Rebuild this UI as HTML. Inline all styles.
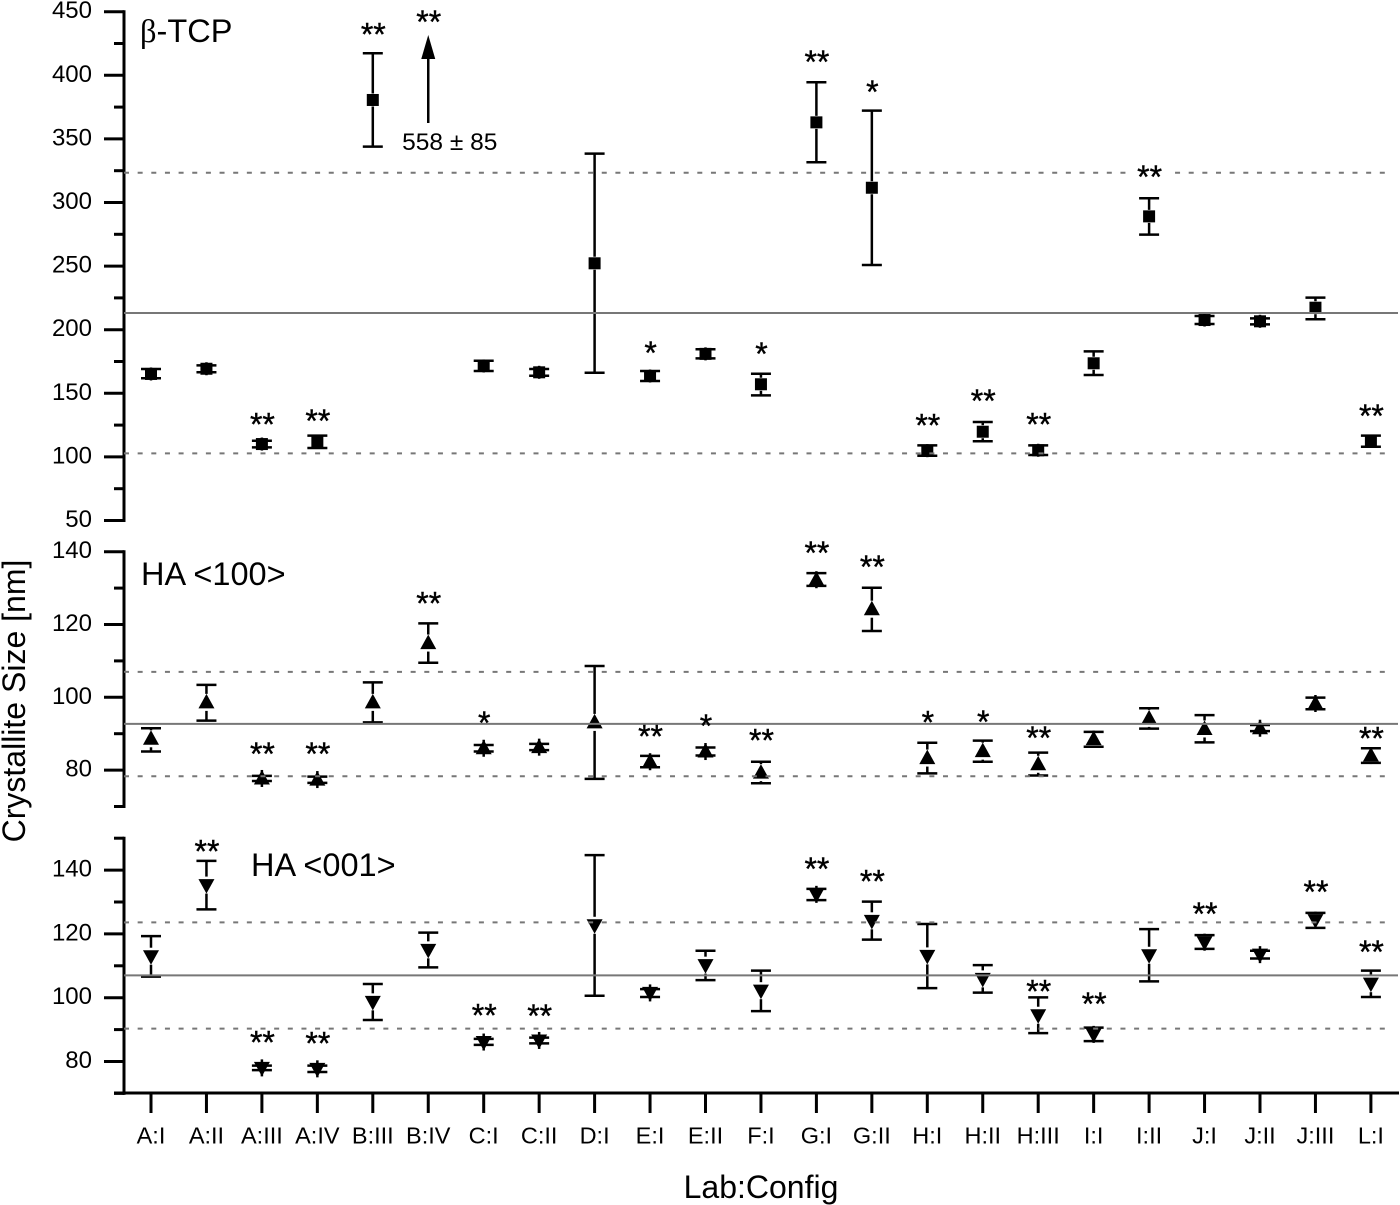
<!DOCTYPE html>
<html lang="en">
<head>
<meta charset="utf-8">
<title>Crystallite Size by Lab and Config</title>
<style>
html,body{margin:0;padding:0;background:#fff;}
svg{display:block;font-family:"Liberation Sans",Arial,sans-serif;}
</style>
</head>
<body>
<svg id="chart" width="1400" height="1205" viewBox="0 0 1400 1205" xmlns="http://www.w3.org/2000/svg">
<rect x="0" y="0" width="1400" height="1205" fill="#fff"/>
<text transform="translate(25,701) rotate(-90)" text-anchor="middle" font-size="32" fill="#000">Crystallite Size [nm]</text>
<text x="761" y="1198" text-anchor="middle" font-size="32" fill="#000">Lab:Config</text>
<text x="140" y="42" font-size="32.5" fill="#000"><tspan font-family="'Liberation Serif',serif">β</tspan>-TCP</text>
<text x="141" y="585" font-size="32.5" fill="#000">HA &lt;100&gt;</text>
<text x="251" y="876" font-size="32.5" fill="#000">HA &lt;001&gt;</text>
</svg>
<script>
var categories = ["A:I","A:II","A:III","A:IV","B:III","B:IV","C:I","C:II","D:I","E:I","E:II","F:I","G:I","G:II","H:I","H:II","H:III","I:I","I:II","J:I","J:II","J:III","L:I"];

var betaValues = [165.2,169.3,110.1,111.7,380.6,null,171.5,166.5,252.2,163.6,181,157.1,363,311.6,104.9,119.8,105.2,173.6,289.1,207.6,206.6,217.3,112.3];
var betaHigh = [169.1,172,112.7,116.7,417.3,null,175.6,169.1,338.4,167.5,184.6,165.4,394.5,372.2,109.1,127.4,109.1,183,303.3,210.8,208.9,225.2,116.7];
var betaLow = [161.8,166.5,107.5,107,343.9,null,167.5,163.8,166.2,159.7,177.5,148.4,331.6,250.9,100.9,112.3,101.5,164.4,274.7,204.5,204.2,208.2,108];
var betaStars = [0,0,2,2,2,2,0,0,0,1,0,1,2,1,2,2,2,0,2,0,0,0,2];
var betaStarLevels = [null,null,129,131.6,435.6,445.5,null,null,null,185.4,null,184.6,413.8,390.5,128.2,147.3,129,null,323.4,null,null,null,135.5];
var betaReference = [102.8,213.1,323.4];
var betaTicks = [50,100,150,200,250,300,350,400,450];
var betaMinorTicks = [75,125,175,225,275,325,375,425];
var offscaleIndex = 5;
var offscaleLabel = "558 ± 85";
var offscaleArrowFrom = 362.5;
var offscaleArrowTo = 431.7;
var offscaleLabelLevel = 347.2;

var ha100Values = [88.6,98.6,77.7,77.4,98.6,114.9,86,86.3,93.1,82.3,85.1,79.3,132.3,124.2,83.3,85.2,81.6,88.5,94.2,91.3,91.5,98.3,84];
var ha100High = [91.5,103.4,78.4,78.2,104.1,120.3,86.9,87.2,108.6,83.9,86.2,82.3,134.1,130.1,87.5,88.1,84.8,90.5,97,95.1,92.4,99.9,86];
var ha100Low = [85.1,93.6,77,76.5,93.1,109.5,85.1,85.5,77.6,80.8,84,76.4,130.6,118.2,79.1,82.3,78.5,86.4,91.4,87.6,90.7,96.7,82];
var ha100Stars = [0,0,2,2,0,2,1,0,0,2,1,2,2,2,1,1,2,0,0,0,0,0,2];
var ha100StarLevels = [null,null,85.7,85.7,null,127,94.2,null,null,90.5,93.3,89.4,140.9,137,94.3,94.5,90.1,null,null,null,null,null,89.9];
var ha100Reference = [78.3,92.7,107];
var ha100Ticks = [80,100,120,140];
var ha100MinorTicks = [70,90,110,130];

var ha001Values = [113,135.3,78,77.7,98.7,115,86.1,86.6,122.7,101.5,110.2,102.2,132.4,124.1,113.1,105.9,94.5,88.5,113.3,117.4,113.5,124.3,104.4];
var ha001High = [119.3,142.9,78.7,78.7,104.3,120.4,87.1,87.5,144.7,102.7,114.7,108.5,134.1,130.1,123.1,110.2,100.1,90.6,121.5,119.6,114.7,126.6,108.5];
var ha001Low = [106.6,127.7,77.3,76.7,93,109.5,85.2,85.7,100.6,100.2,105.5,95.8,130.6,118.2,103,101.6,88.9,86.4,105.1,115.3,112.3,121.9,100.2];
var ha001Stars = [0,2,2,2,0,0,2,2,0,0,0,0,2,2,0,0,2,2,0,2,0,2,2];
var ha001StarLevels = [null,147.3,87.3,87,null,null,95.9,95.6,null,null,null,null,141.8,137.9,null,null,103.4,99.5,null,127.7,null,134.6,115.8];
var ha001Reference = [90.3,107,123.6];
var ha001Ticks = [80,100,120,140];
var ha001MinorTicks = [70,90,110,130,150];

var SVGNS = "http://www.w3.org/2000/svg";
var chart = document.getElementById("chart");
var AXIS_X = 124;
var RIGHT = 1398;
var BASE_Y = 1093;

function xScale(i){ return 151 + i * 55.45; }
function yBeta(v){ return 329.7 - (v - 200) * 1.272; }
function yHa100(v){ return 697.3 - (v - 100) * 3.64; }
function yHa001(v){ return 997.7 - (v - 100) * 3.19; }

function make(tag, parent, attrs){
  var el = document.createElementNS(SVGNS, tag);
  for (var k in attrs) { el.setAttribute(k, attrs[k]); }
  parent.appendChild(el);
  return el;
}
function segment(parent, x1, y1, x2, y2, w, color){
  return make("line", parent, {x1:x1, y1:y1, x2:x2, y2:y2, stroke:color, "stroke-width":w});
}

function drawPanel(name, yScale, kind, values, high, low, stars, starLevels, reference, ticks, minorTicks, top, bottom){
  var g = make("g", chart, {});
  
  

  var spine = segment(g, AXIS_X, top - 1.5, AXIS_X, bottom + 1.5, 3, "#000");
  
  

  ticks.forEach(function(t){
    var tick = segment(g, 104, yScale(t), AXIS_X, yScale(t), 3, "#000");
    
    
    var label = make("text", g, {x:92, y:yScale(t) + 6.5, "text-anchor":"end", "font-size":24, fill:"#000"});
    label.textContent = String(t);
    
    
  });
  minorTicks.forEach(function(t){
    var tick = segment(g, 114, yScale(t), AXIS_X, yScale(t), 3, "#000");
    
    
  });

  var R = kind === "square" ? 6.5 : 8.5;
  values.forEach(function(v, i){
    if (v === null) { return; }
    var x = xScale(i), c = yScale(v), hi = yScale(high[i]), lo = yScale(low[i]);
    var pt = make("g", g, {});
    
    
    segment(pt, x, hi, x, c - R, 2.5, "#000");
    segment(pt, x, lo, x, c + R, 2.5, "#000");
    segment(pt, x - 10, hi, x + 10, hi, 2.5, "#000");
    segment(pt, x - 10, lo, x + 10, lo, 2.5, "#000");
    if (kind === "square") {
      make("rect", pt, {x:x - 6, y:c - 6, width:12, height:12, fill:"#000"});
    } else if (kind === "up") {
      make("polygon", pt, {points:(x - 8) + "," + (c + 6) + " " + (x + 8) + "," + (c + 6) + " " + x + "," + (c - 8.5), fill:"#000"});
    } else {
      make("polygon", pt, {points:(x - 8) + "," + (c - 6) + " " + (x + 8) + "," + (c - 6) + " " + x + "," + (c + 8.5), fill:"#000"});
    }
  });

  reference.forEach(function(r, i){
    var line = segment(g, AXIS_X, yScale(r), i === 1 ? RIGHT : 1392, yScale(r), 2, "#777");
    if (i !== 1) { line.setAttribute("stroke-dasharray", "5 8.65"); }
    
    
  });

  stars.forEach(function(count, i){
    if (!count) { return; }
    var x = xScale(i) + 0.5, y = yScale(starLevels[i]);
    if (count === 2) {
      var box = make("rect", g, {x:x - 18, y:y - 6, width:36, height:12, fill:"#fff"});
      
      
    }
    var star = make("text", g, {x:x, y:y + 15.5, "text-anchor":"middle", "font-size":32, fill:"#000", stroke:"#000", "stroke-width":0.4});
    star.textContent = count === 2 ? "**" : "*";
    
    
  });
  return g;
}

var betaGroup = drawPanel("beta-tcp", yBeta, "square", betaValues, betaHigh, betaLow, betaStars, betaStarLevels, betaReference, betaTicks, betaMinorTicks, yBeta(450), yBeta(50));
drawPanel("ha-100", yHa100, "up", ha100Values, ha100High, ha100Low, ha100Stars, ha100StarLevels, ha100Reference, ha100Ticks, ha100MinorTicks, yHa100(140), yHa100(70));
drawPanel("ha-001", yHa001, "down", ha001Values, ha001High, ha001Low, ha001Stars, ha001StarLevels, ha001Reference, ha001Ticks, ha001MinorTicks, yHa001(150), yHa001(70));

var arrowX = xScale(offscaleIndex);
var arrowLine = segment(betaGroup, arrowX, yBeta(offscaleArrowFrom), arrowX, yBeta(offscaleArrowTo) + 20, 2.5, "#000");


var arrowHead = make("polygon", betaGroup, {points:(arrowX - 7) + "," + (yBeta(offscaleArrowTo) + 24) + " " + (arrowX + 7) + "," + (yBeta(offscaleArrowTo) + 24) + " " + arrowX + "," + yBeta(offscaleArrowTo), fill:"#000"});


var arrowLabel = make("text", betaGroup, {x:arrowX + 21.5, y:yBeta(offscaleLabelLevel) + 7.5, "text-anchor":"middle", "font-size":24.5, fill:"#000"});
arrowLabel.textContent = offscaleLabel;



var xAxis = segment(chart, AXIS_X - 10, BASE_Y, 1399, BASE_Y, 3, "#000");


categories.forEach(function(cat, i){
  var tick = segment(chart, xScale(i), BASE_Y, xScale(i), BASE_Y + 20, 3, "#000");
  
  
  var label = make("text", chart, {x:xScale(i), y:1143.5, "text-anchor":"middle", "font-size":23.5, fill:"#000"});
  label.textContent = cat;
  
  
});
</script>
</body>
</html>
